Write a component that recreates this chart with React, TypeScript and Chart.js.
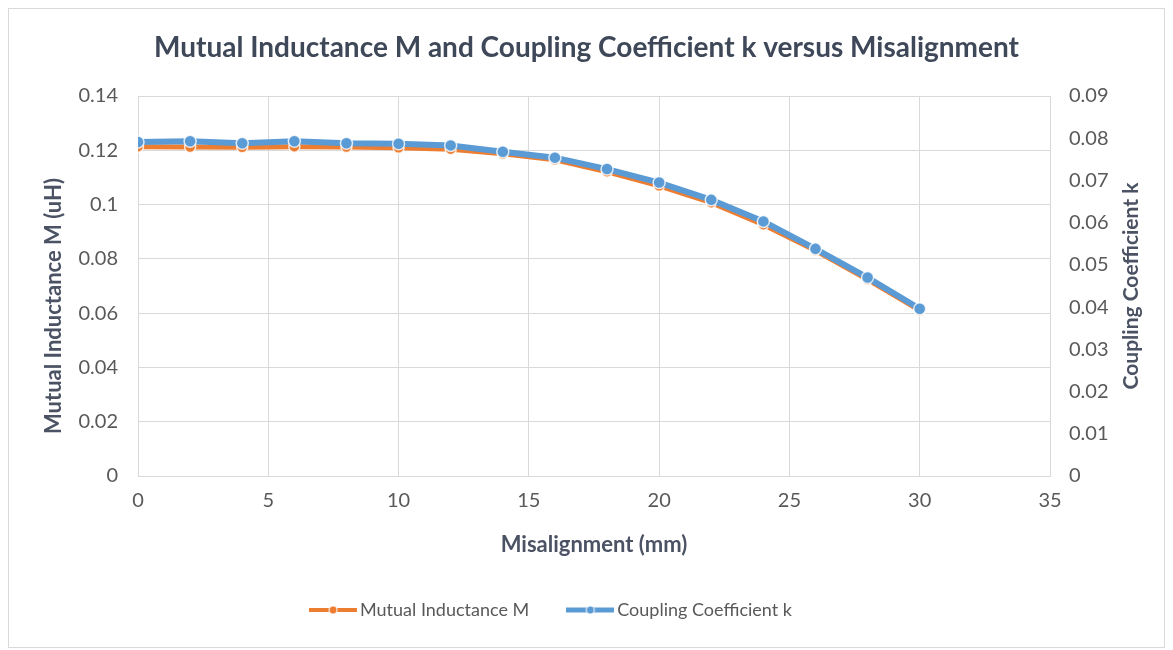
import React, { useEffect, useRef } from "react";
import { Chart, registerables } from "chart.js";

Chart.register(...registerables);

const TITLE = "Mutual Inductance M and Coupling Coefficient k versus Misalignment";
const X_TITLE = "Misalignment (mm)";
const Y_LEFT_TITLE = "Mutual Inductance M (uH)";
const Y_RIGHT_TITLE = "Coupling Coefficient k";

const misalignment = [0, 2, 4, 6, 8, 10, 12, 14, 16, 18, 20, 22, 24, 26, 28, 30];
const mutualInductance = [
  0.1213, 0.1212, 0.1211, 0.1213, 0.1212, 0.1209, 0.1204, 0.1187,
  0.1165, 0.1121, 0.1069, 0.1007, 0.0926, 0.0831, 0.0724, 0.061,
];
const couplingK = [
  0.0791, 0.0793, 0.0788, 0.0793, 0.0788, 0.0787, 0.0783, 0.0768,
  0.0754, 0.0727, 0.0695, 0.0654, 0.0603, 0.0538, 0.047, 0.0396,
];

const SERIES_NAMES = ["Mutual Inductance M", "Coupling Coefficient k"];
const ORANGE = "#ED7D31";
const BLUE = "#5B9BD5";

const FONT = "Lato, 'Open Sans', sans-serif";
const TEXT_GRAY = "#595959";
const TITLE_COLOR = "#3E4859";
const AXIS_TITLE_COLOR = "#4A5263";
const GRID = "#D9D9D9";

function legendIcon(color: string, lw: number): HTMLCanvasElement {
  const c = document.createElement("canvas");
  c.width = 48;
  c.height = 14;
  const ctx = c.getContext("2d")!;
  ctx.strokeStyle = color;
  ctx.lineWidth = lw;
  ctx.beginPath();
  ctx.moveTo(0, 7);
  ctx.lineTo(48, 7);
  ctx.stroke();
  ctx.beginPath();
  ctx.arc(24, 7, 4, 0, Math.PI * 2);
  ctx.fillStyle = color;
  ctx.fill();
  ctx.lineWidth = 1.2;
  ctx.strokeStyle = "rgba(255,255,255,0.85)";
  ctx.stroke();
  return c;
}

const fmt = (v: number | string) => String(Number(Number(v).toFixed(2)));

export default function App() {
  const ref = useRef<HTMLCanvasElement | null>(null);

  useEffect(() => {
    if (!ref.current) return;
    const icons = [legendIcon(ORANGE, 4), legendIcon(BLUE, 5)];

    const axisTitles = {
      id: "axisTitles",
      afterLayout(chart: any) {
        const lg = chart.legend;
        if (lg) {
          lg.left -= 33;
          lg.right -= 33;
        }
      },
      afterDraw(chart: any) {
        const { ctx, chartArea } = chart;
        ctx.save();
        ctx.font = `bold 22px ${FONT}`;
        ctx.fillStyle = AXIS_TITLE_COLOR;
        ctx.textAlign = "center";
        ctx.textBaseline = "middle";
        const midY = (chartArea.top + chartArea.bottom) / 2;
        ctx.save();
        ctx.translate(chartArea.left - 84, midY + 20);
        ctx.rotate(-Math.PI / 2);
        ctx.fillText(Y_LEFT_TITLE, 0, 0);
        ctx.restore();
        ctx.font = `bold 21px ${FONT}`;
        ctx.save();
        ctx.translate(chartArea.right + 81, midY);
        ctx.rotate(-Math.PI / 2);
        ctx.fillText(Y_RIGHT_TITLE, 0, 0);
        ctx.restore();
        ctx.restore();
      },
    };

    const chart = new Chart(ref.current, {
      type: "line",
      data: {
        datasets: [
          {
            label: SERIES_NAMES[0],
            data: misalignment.map((x, i) => ({ x, y: mutualInductance[i] })),
            yAxisID: "y",
            borderColor: ORANGE,
            backgroundColor: ORANGE,
            borderWidth: 5,
            pointRadius: 5.5,
            pointBorderColor: "rgba(255,255,255,0.8)",
            pointBorderWidth: 1.5,
            pointBackgroundColor: ORANGE,
            tension: 0,
            order: 1,
          },
          {
            label: SERIES_NAMES[1],
            data: misalignment.map((x, i) => ({ x, y: couplingK[i] })),
            yAxisID: "y1",
            borderColor: BLUE,
            backgroundColor: BLUE,
            borderWidth: 6,
            pointRadius: 6,
            pointBorderColor: "rgba(255,255,255,0.8)",
            pointBorderWidth: 1.5,
            pointBackgroundColor: BLUE,
            tension: 0,
            order: 0,
          },
        ],
      },
      options: {
        responsive: false,
        animation: false,
        devicePixelRatio: 1,
        layout: { padding: { top: 0, left: 0, right: 0, bottom: 18 } },
        plugins: {
          title: {
            display: true,
            text: TITLE,
            color: TITLE_COLOR,
            font: { family: FONT, size: 28, weight: "bold" },
            padding: { top: 22, bottom: 31.4 },
          },
          legend: {
            position: "bottom",
            labels: {
              usePointStyle: true,
              pointStyleWidth: 36,
              padding: 43,
              color: TEXT_GRAY,
              font: { family: FONT, size: 18 },
              generateLabels: () =>
                SERIES_NAMES.map((text, i) => ({
                  text,
                  pointStyle: icons[i] as any,
                  fillStyle: i === 0 ? ORANGE : BLUE,
                  strokeStyle: "transparent",
                  lineWidth: 0,
                  hidden: false,
                  datasetIndex: i,
                  fontColor: TEXT_GRAY,
                })),
            },
          },
          tooltip: { enabled: false },
        },
        scales: {
          x: {
            type: "linear",
            min: 0,
            max: 35,
            ticks: {
              stepSize: 5,
              color: TEXT_GRAY,
              padding: 13,
              font: { family: FONT, size: 20 },
            },
            grid: { color: GRID, drawTicks: false },
            border: { color: GRID },
            title: {
              display: true,
              text: X_TITLE,
              color: AXIS_TITLE_COLOR,
              font: { family: FONT, size: 22, weight: "bold" },
              padding: { top: 0, bottom: 0 },
            },
            afterFit: (s: any) => {
              s.height = 82;
            },
          },
          y: {
            type: "linear",
            position: "left",
            min: 0,
            max: 0.14,
            ticks: {
              stepSize: 0.02,
              color: TEXT_GRAY,
              padding: 20,
              font: { family: FONT, size: 20 },
              callback: (v: any) => fmt(v),
            },
            grid: { color: GRID, drawTicks: false },
            border: { color: GRID },
            afterFit: (s: any) => {
              s.width = 129;
            },
          },
          y1: {
            type: "linear",
            position: "right",
            min: 0,
            max: 0.09,
            ticks: {
              stepSize: 0.01,
              color: TEXT_GRAY,
              padding: 19,
              font: { family: FONT, size: 20 },
              callback: (v: any) => fmt(v),
            },
            grid: { drawOnChartArea: false, drawTicks: false, color: GRID },
            border: { color: GRID },
            afterFit: (s: any) => {
              s.width = 114;
            },
          },
        },
      } as any,
      plugins: [axisTitles],
    });
    return () => chart.destroy();
  }, []);

  return (
    <div
      style={{
        width: 1157,
        height: 640,
        border: "1px solid #D9D9D9",
        boxSizing: "border-box",
        background: "#fff",
      }}
    >
      <canvas ref={ref} width={1155} height={638} style={{ display: "block" }} />
    </div>
  );
}
